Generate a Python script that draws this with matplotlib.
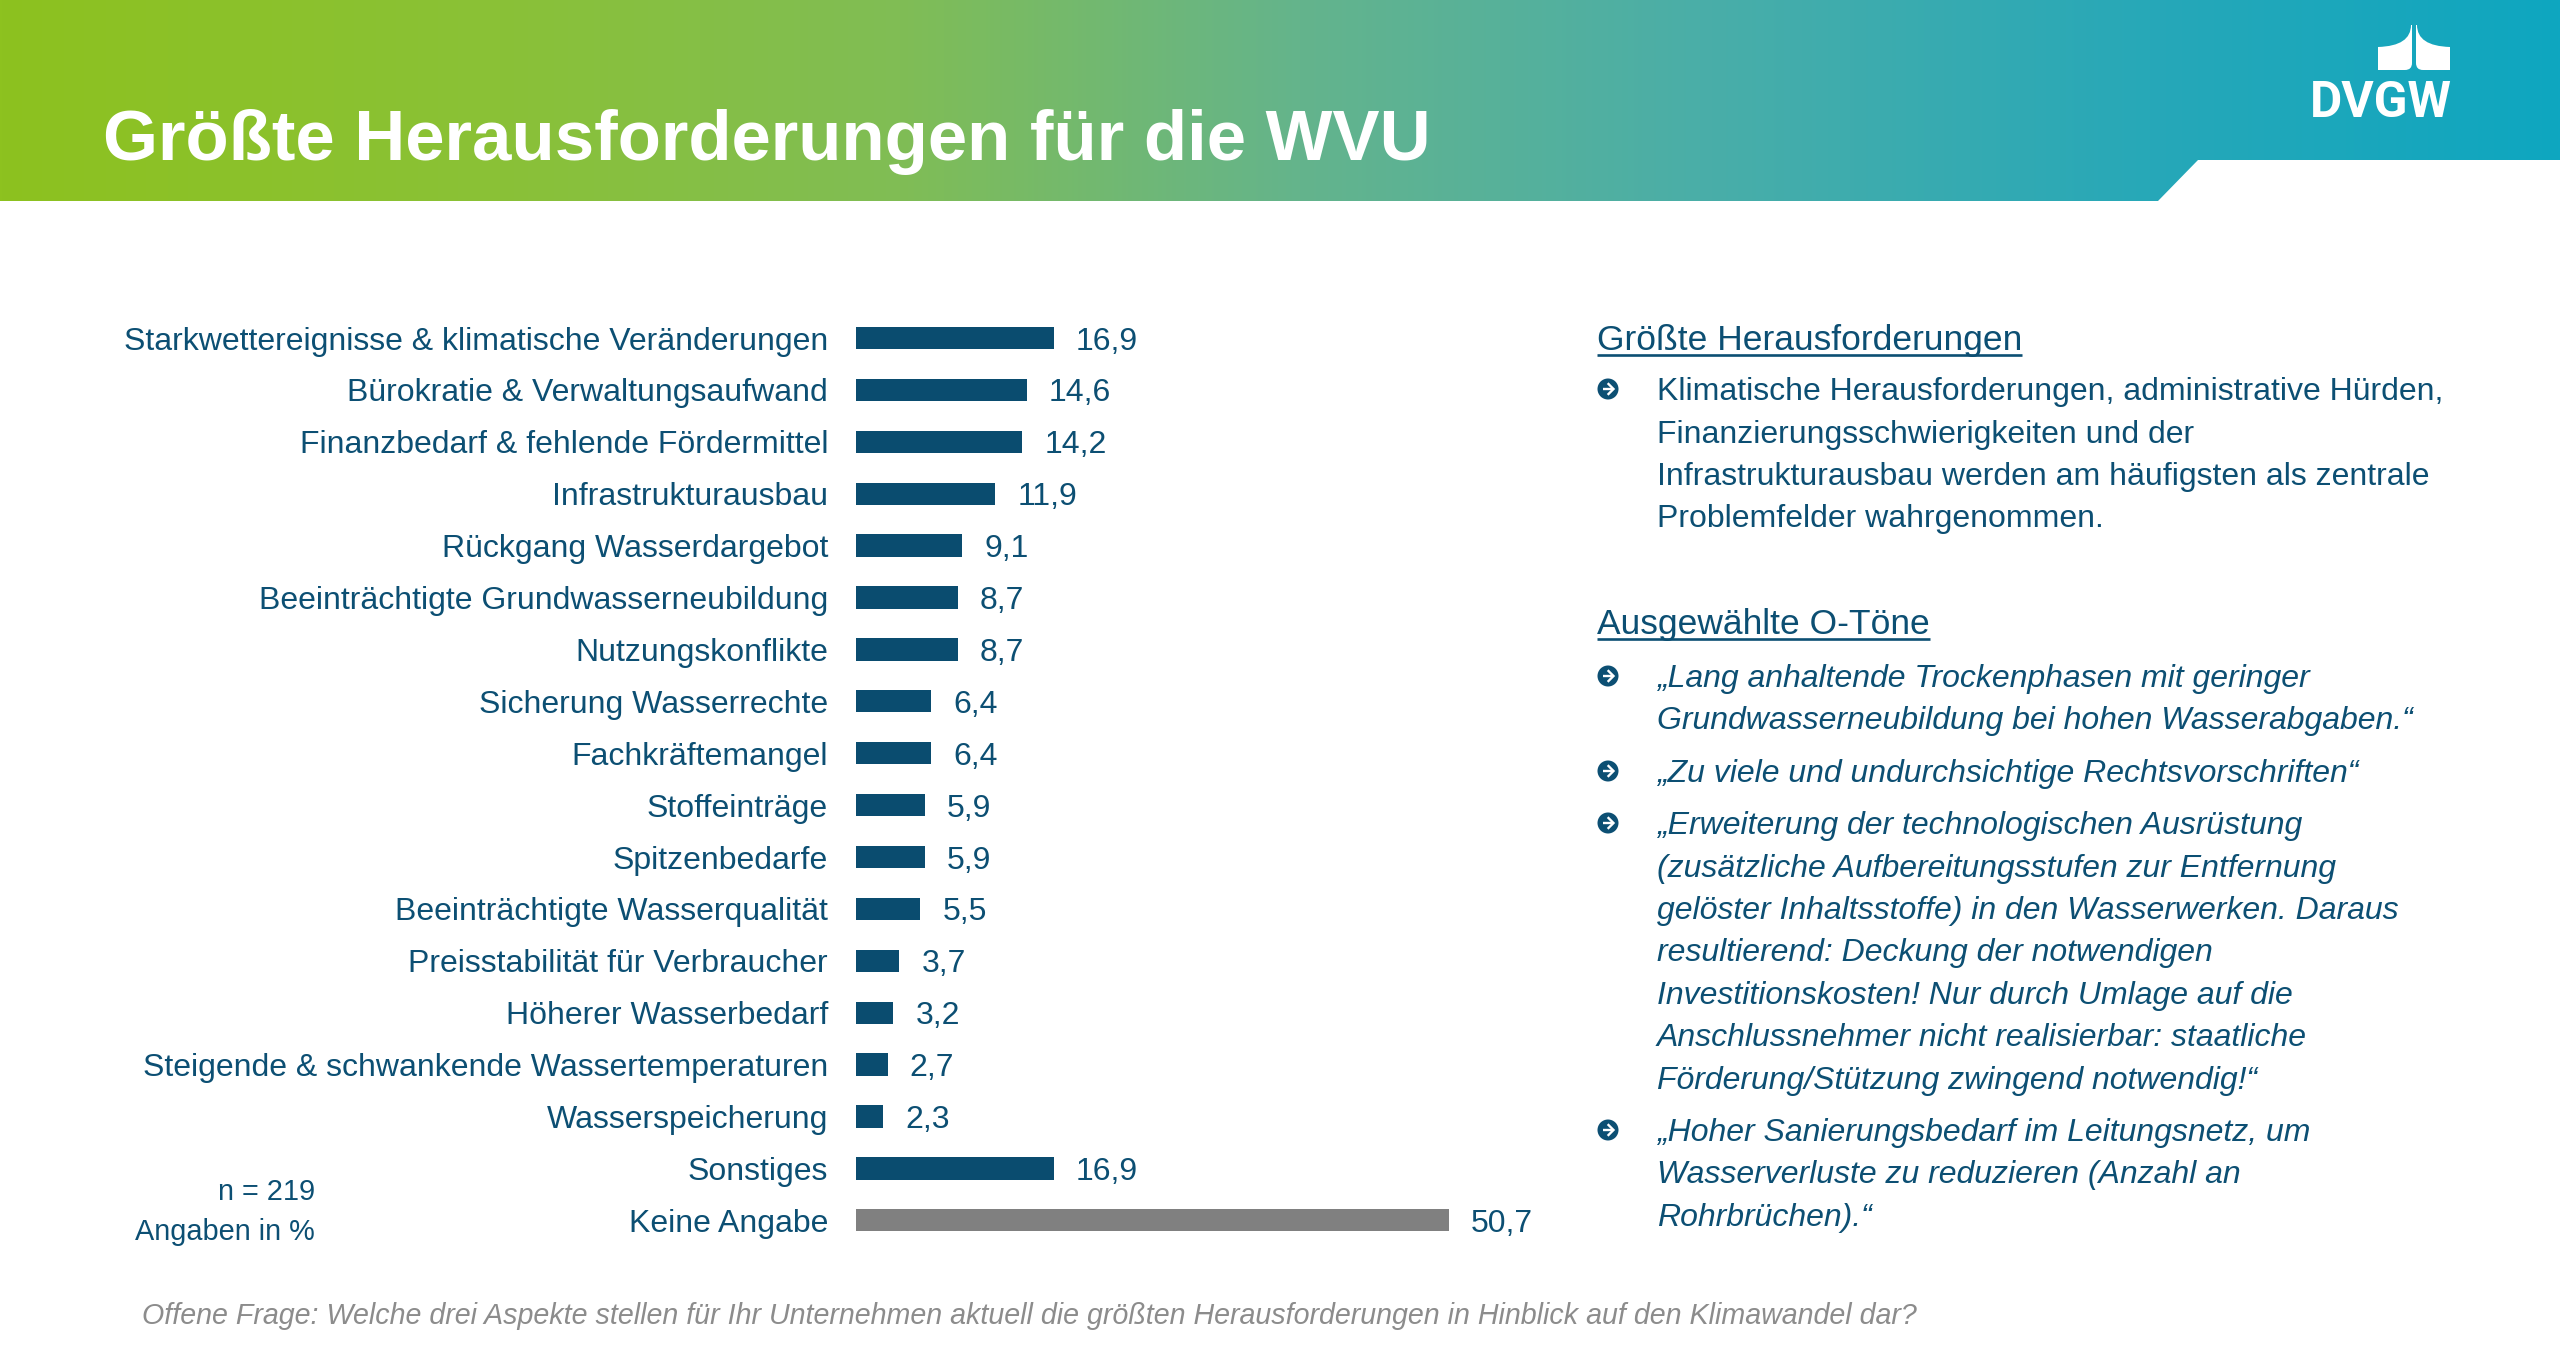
import matplotlib
matplotlib.use('Agg')
import matplotlib.pyplot as plt
import numpy as np
from matplotlib.patches import Polygon, Circle, PathPatch
from matplotlib.path import Path

# ---------------- data ----------------
title = "Größte Herausforderungen für die WVU"
categories = [
    "Starkwettereignisse & klimatische Veränderungen",
    "Bürokratie & Verwaltungsaufwand",
    "Finanzbedarf & fehlende Fördermittel",
    "Infrastrukturausbau",
    "Rückgang Wasserdargebot",
    "Beeinträchtigte Grundwasserneubildung",
    "Nutzungskonflikte",
    "Sicherung Wasserrechte",
    "Fachkräftemangel",
    "Stoffeinträge",
    "Spitzenbedarfe",
    "Beeinträchtigte Wasserqualität",
    "Preisstabilität für Verbraucher",
    "Höherer Wasserbedarf",
    "Steigende & schwankende Wassertemperaturen",
    "Wasserspeicherung",
    "Sonstiges",
    "Keine Angabe",
]
values = [16.9, 14.6, 14.2, 11.9, 9.1, 8.7, 8.7, 6.4, 6.4, 5.9, 5.9, 5.5,
          3.7, 3.2, 2.7, 2.3, 16.9, 50.7]
gray_categories = ["Keine Angabe"]

sample_note = ["n = 219", "Angaben in %"]
question = ("Offene Frage: Welche drei Aspekte stellen für Ihr Unternehmen aktuell "
            "die größten Herausforderungen in Hinblick auf den Klimawandel dar?")

heading1 = "Größte Herausforderungen"
summary_lines = [
    "Klimatische Herausforderungen, administrative Hürden,",
    "Finanzierungsschwierigkeiten und der",
    "Infrastrukturausbau werden am häufigsten als zentrale",
    "Problemfelder wahrgenommen.",
]
heading2 = "Ausgewählte O-Töne"
quotes = [
    ["„Lang anhaltende Trockenphasen mit geringer",
     "Grundwasserneubildung bei hohen Wasserabgaben.“"],
    ["„Zu viele und undurchsichtige Rechtsvorschriften“"],
    ["„Erweiterung der technologischen Ausrüstung",
     "(zusätzliche Aufbereitungsstufen zur Entfernung",
     "gelöster Inhaltsstoffe) in den Wasserwerken. Daraus",
     "resultierend: Deckung der notwendigen",
     "Investitionskosten! Nur durch Umlage auf die",
     "Anschlussnehmer nicht realisierbar: staatliche",
     "Förderung/Stützung zwingend notwendig!“"],
    ["„Hoher Sanierungsbedarf im Leitungsnetz, um",
     "Wasserverluste zu reduzieren (Anzahl an",
     "Rohrbrüchen).“"],
]
logo_text = "DVGW"

# ---------------- style ----------------
W, H = 2560, 1346
FONT = ['Liberation Sans', 'DejaVu Sans']
TXT = '#0c4f73'
BAR = '#0a4c6f'
GRAY = '#808080'
plt.rcParams['font.family'] = FONT

fig = plt.figure(figsize=(W / 100, H / 100), dpi=100)
bg = fig.add_axes([0, 0, 1, 1])
bg.set_xlim(0, W)
bg.set_ylim(H, 0)
bg.axis('off')
renderer = fig.canvas.get_renderer()


def size_for(s, target_px, **kw):
    t = bg.text(0, 0, s, fontsize=20, **kw)
    w = t.get_window_extent(renderer).width
    t.remove()
    return 20 * target_px / w


# ---------------- header ----------------
stops = [(0, (141, 194, 31)), (500, (138, 193, 55)), (900, (128, 189, 85)),
         (1300, (100, 180, 140)), (1700, (74, 174, 168)), (2150, (39, 168, 184)),
         (2560, (14, 166, 192))]
xs = np.linspace(0, W, 1280)
grad = np.zeros((1, xs.size, 3))
for c in range(3):
    grad[0, :, c] = np.interp(xs, [s[0] for s in stops], [s[1][c] / 255 for s in stops])
img = bg.imshow(grad, extent=(0, W, 201, 0), aspect='auto', zorder=1)
hdr = Polygon([(0, 0), (W, 0), (W, 160), (2198, 160), (2158, 201), (0, 201)],
              closed=True, transform=bg.transData, facecolor='none', edgecolor='none')
bg.add_patch(hdr)
img.set_clip_path(hdr)
bg.set_xlim(0, W)
bg.set_ylim(H, 0)

ts = size_for(title, 1330, fontweight='bold')
bg.text(103, 160, title, color='white', fontsize=ts, fontweight='bold',
        va='baseline', ha='left', zorder=3)

# logo
ls = size_for(logo_text, 142, fontweight='bold', family=['Roboto', 'DejaVu Sans'])
bg.text(2381, 117, logo_text, color='white', fontsize=ls, fontweight='bold',
        family=['Roboto', 'DejaVu Sans'], ha='center', va='baseline', zorder=3)
cx = 2414
left_piece = [(cx - 3, 25), (cx - 3, 46), (cx - 36, 47), (cx - 36, 70),
              (cx - 9, 70), (cx - 2, 70), (cx - 2, 63), (cx - 2, 25), (cx - 3, 25)]
codes = [Path.MOVETO, Path.CURVE3, Path.CURVE3, Path.LINETO, Path.LINETO,
         Path.CURVE3, Path.CURVE3, Path.LINETO, Path.CLOSEPOLY]
right_piece = [(2 * cx - x, y) for x, y in left_piece]
for pts in (left_piece, right_piece):
    bg.add_patch(PathPatch(Path(pts, codes), facecolor='white', edgecolor='none', zorder=3))

# ---------------- bar chart ----------------
x0 = 856
px_per_unit = 11.7
row0 = 338
row_gap = 51.9
n = len(categories)
ax_w = 60 * px_per_unit
ax_top = row0 - row_gap / 2
ax_h = n * row_gap
ax = fig.add_axes([x0 / W, 1 - (ax_top + ax_h) / H, ax_w / W, ax_h / H])
ax.set_xlim(0, 60)
ax.set_ylim(n - 0.5, -0.5)
colors = [GRAY if c in gray_categories else BAR for c in categories]
ypos = np.arange(n)
ax.barh(ypos, values, height=0.43, color=colors)
for s in ax.spines.values():
    s.set_visible(False)
ax.set_xticks([])
lab_size = size_for(categories[0], 704)
ax.set_yticks(ypos, categories)
ax.tick_params(axis='y', length=0, pad=(x0 - 828) * 0.72, labelsize=lab_size, labelcolor=TXT)
for v, y in zip(values, ypos):
    ax.annotate(f"{v:.1f}".replace('.', ','), (v, y), xytext=(22 * 0.72, 0),
                textcoords='offset points', va='center_baseline', ha='left',
                fontsize=lab_size, color=TXT)
ax.patch.set_alpha(0)

bg.text(315, 1200, sample_note[0], ha='right', va='baseline', fontsize=lab_size * 0.9, color=TXT)
bg.text(315, 1240, sample_note[1], ha='right', va='baseline', fontsize=lab_size * 0.9, color=TXT)

qs = size_for(question, 1775, fontstyle='italic')
bg.text(142, 1324, question, ha='left', va='baseline', fontsize=qs, fontstyle='italic',
        color='#8c8c8c')

# ---------------- right panel ----------------
body_size = size_for(summary_lines[0], 786)
xt = 1657
lh = 42.5


def heading(txt, y):
    t = bg.text(1597, y, txt, ha='left', va='baseline', fontsize=body_size * 1.105, color=TXT)
    bb = t.get_window_extent(renderer)
    bg.plot([bb.x0, bb.x1], [y + 4.5, y + 4.5], color=TXT, lw=1.9, solid_capstyle='butt')


def bullet(y):
    bx = 1608
    bg.add_patch(Circle((bx, y), 10.5, facecolor=TXT, edgecolor='none', zorder=3))
    bg.plot([bx - 5.5, bx + 5], [y, y], color='white', lw=1.7, zorder=4, solid_capstyle='butt')
    bg.plot([bx + 0.5, bx + 5.5, bx + 0.5], [y - 5, y, y + 5], color='white', lw=1.7,
            zorder=4, solid_joinstyle='miter')


heading(heading1, 350)
bullet(400 - 11)
for i, line in enumerate(summary_lines):
    bg.text(xt, 400 + i * lh, line, ha='left', va='baseline', fontsize=body_size, color=TXT)

heading(heading2, 634)
quote_starts = [687, 782, 834, 1141]
for q, y0 in zip(quotes, quote_starts):
    bullet(y0 - 11)
    for i, line in enumerate(q):
        bg.text(xt, y0 + i * lh, line, ha='left', va='baseline', fontsize=body_size,
                fontstyle='italic', color=TXT)

fig.savefig('out.png', dpi=100)
